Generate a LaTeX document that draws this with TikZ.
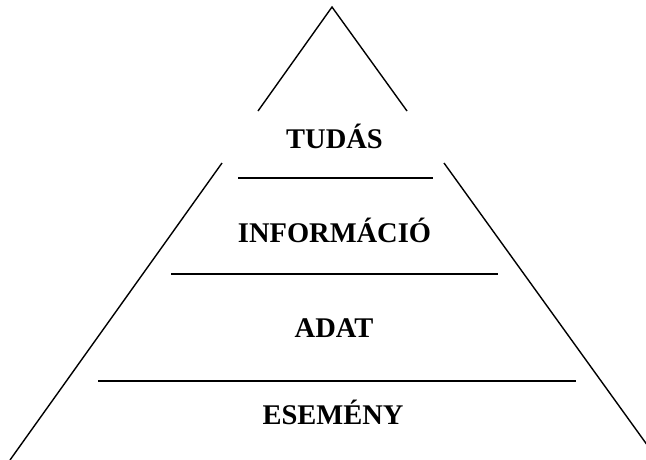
\documentclass[tikz,border=0pt]{standalone}
\usepackage{fontspec}
\setmainfont{Liberation Serif}
\begin{document}
\begin{tikzpicture}[x=1pt,y=-1pt,
  edge/.style={draw=black,line width=1.4pt},
  lbl/.style={font=\fontsize{28.5}{30}\selectfont\bfseries,inner sep=0pt,anchor=base}]
\useasboundingbox (0,0) rectangle (646,459);
\clip (0,0) rectangle (646,459);
% triangle sides
\coordinate (apex) at (332,7);
\coordinate (l1) at (258,111);
\coordinate (r1) at (407,111);
\coordinate (l2) at (222,163);
\coordinate (r2) at (444,163);
\coordinate (l3) at (10,460);
\coordinate (r3) at (658,460);
\draw[edge] (l1) -- (apex) -- (r1);
\draw[edge] (l2) -- (l3);
\draw[edge] (r2) -- (r3);
% separators
\coordinate (a1) at (238,178); \coordinate (b1) at (433,178);
\coordinate (a2) at (171,274); \coordinate (b2) at (498,274);
\coordinate (a3) at (98,381);  \coordinate (b3) at (576,381);
\draw[edge] (a1) -- (b1);
\draw[edge] (a2) -- (b2);
\draw[edge] (a3) -- (b3);
% labels
\node[lbl] (tudas) at (334.5,148) {TUDÁS};
\node[lbl] (info) at (334.5,242) {INFORMÁCIÓ};
\node[lbl] (adat) at (334,337) {ADAT};
\node[lbl] (esemeny) at (333,424) {ESEMÉNY};
\end{tikzpicture}
\end{document}
